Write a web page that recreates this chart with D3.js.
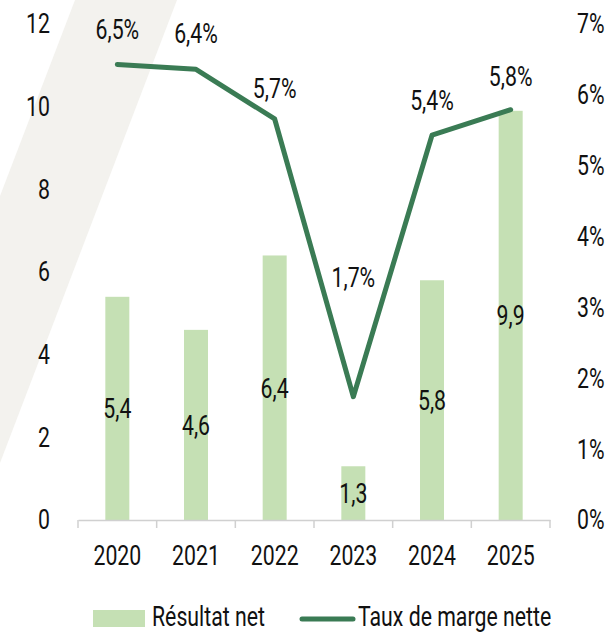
<!DOCTYPE html>
<html lang="fr">

<head>
  <meta charset="UTF-8">
  <title>Résultat net et taux de marge nette</title>
  <script src="https://d3js.org/d3.v7.min.js"></script>
</head>

<body>

</body>
<style>
  body {
    margin: 0;
    padding: 0;
    background: #fff;
  }

  svg text {
    font-family: Roboto, "DejaVu Sans Condensed", sans-serif;
    font-size: 28px;
    fill: #111;
  }
</style>
<script>
  // data
  const years = ['2020', '2021', '2022', '2023', '2024', '2025']
  const resultatNet = [5.4, 4.6, 6.4, 1.3, 5.8, 9.9]
  const resultatLabels = ['5,4', '4,6', '6,4', '1,3', '5,8', '9,9']
  const margeNette = [6.43, 6.36, 5.66, 1.74, 5.43, 5.79]
  const margeLabels = ['6,5%', '6,4%', '5,7%', '1,7%', '5,4%', '5,8%']
  const leftTicks = [0, 2, 4, 6, 8, 10, 12]
  const rightTicks = [0, 1, 2, 3, 4, 5, 6, 7]

  const width = 611
  const height = 633
  const barColor = '#c5e0b4'
  const lineColor = '#3a7b54'
  const squeeze = 0.76 // no condensed font around, so text is narrowed by hand

  const svg = d3.select('body').append('svg')
    .attr('width', width)
    .attr('height', height)

  // decorative slanted band in the background
  svg.append('polygon')
    .attr('points', '75,0 177,0 0,463 0,196')
    .attr('fill', '#f3f2ee')

  const x = d3.scaleBand().domain(years).range([78, 550])
  const yLeft = d3.scaleLinear().domain([0, 12]).range([520, 24])
  const yRight = d3.scaleLinear().domain([0, 7]).range([520, 24])
  const cx = d => x(d) + x.bandwidth() / 2
  const barW = 24

  // left axis
  svg.append('g')
    .attr('transform', 'translate(78,0)')
    .call(d3.axisLeft(yLeft).tickValues(leftTicks).tickSize(0).tickPadding(28))
    .call(g => g.select('.domain').remove())

  // right axis
  svg.append('g')
    .attr('transform', 'translate(550,0)')
    .call(d3.axisRight(yRight).tickValues(rightTicks).tickSize(0).tickPadding(27)
      .tickFormat(d => d + '%'))
    .call(g => g.select('.domain').remove())

  // bars
  const bars = years.map((y, i) => ({ year: y, v: resultatNet[i], label: resultatLabels[i] }))
  svg.append('g').selectAll('rect')
    .data(bars)
    .join('rect')
    .attr('x', d => cx(d.year) - barW / 2)
    .attr('width', barW)
    .attr('y', d => yLeft(d.v))
    .attr('height', d => yLeft(0) - yLeft(d.v))
    .attr('fill', barColor)

  // x axis, ticks sit on the band edges
  const xAxis = svg.append('g')
    .attr('transform', 'translate(0,520)')
    .call(d3.axisBottom(x).tickSize(0).tickPadding(25))
  xAxis.select('.domain').attr('stroke', '#d0d0d0').attr('stroke-width', 1.5)
  xAxis.selectAll('.edge')
    .data(years.map(d => x(d)).concat([x.range()[1]]))
    .join('line')
    .attr('class', 'edge')
    .attr('x1', d => d).attr('x2', d => d)
    .attr('y1', 0).attr('y2', 8)
    .attr('stroke', '#d0d0d0')
    .attr('stroke-width', 1.5)

  // bar labels
  svg.append('g').selectAll('text')
    .data(bars)
    .join('text')
    .attr('x', d => cx(d.year))
    .attr('y', d => (yLeft(d.v) + yLeft(0)) / 2)
    .attr('dy', '0.35em')
    .attr('text-anchor', 'middle')
    .text(d => d.label)

  // rate line
  const pts = years.map((y, i) => ({ year: y, v: margeNette[i], label: margeLabels[i] }))
  const line = d3.line().x(d => cx(d.year)).y(d => yRight(d.v))
  svg.append('path')
    .datum(pts)
    .attr('d', line)
    .attr('fill', 'none')
    .attr('stroke', lineColor)
    .attr('stroke-width', 5)
    .attr('stroke-linecap', 'round')
    .attr('stroke-linejoin', 'round')

  // the dip label sits higher, inside the V
  const lift = [35, 36, 31, 120, 35, 34]
  svg.append('g').selectAll('text')
    .data(pts)
    .join('text')
    .attr('x', d => cx(d.year))
    .attr('y', (d, i) => yRight(d.v) - lift[i])
    .attr('dy', '0.35em')
    .attr('text-anchor', 'middle')
    .text(d => d.label)

  // legend
  const legend = svg.append('g')
  legend.append('rect')
    .attr('x', 93).attr('y', 610)
    .attr('width', 52).attr('height', 17)
    .attr('fill', barColor)
  legend.append('text')
    .attr('x', 152).attr('y', 616).attr('dy', '0.35em')
    .text('Résultat net')
  legend.append('line')
    .attr('x1', 302).attr('x2', 353)
    .attr('y1', 619).attr('y2', 619)
    .attr('stroke', lineColor)
    .attr('stroke-width', 5)
    .attr('stroke-linecap', 'round')
  legend.append('text')
    .attr('x', 358).attr('y', 616).attr('dy', '0.35em')
    .text('Taux de marge nette')

  // narrow every text around its own anchor point
  svg.selectAll('text').each(function () {
    const t = d3.select(this)
    const tx = +t.attr('x') || 0
    const ty = +t.attr('y') || 0
    t.attr('x', 0).attr('y', 0)
      .attr('transform', `translate(${tx},${ty}) scale(${squeeze},1)`)
  })
</script>

</html>
